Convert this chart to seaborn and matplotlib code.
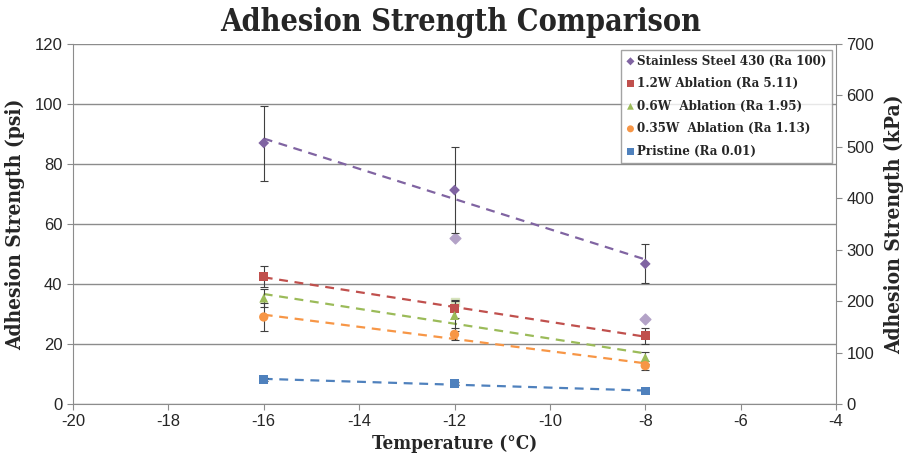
import numpy as np
import pandas as pd
import seaborn as sns
import matplotlib.pyplot as plt

# data (psi)
temps = [-16, -12, -8]
labels = ["Stainless Steel 430 (Ra 100)", "1.2W Ablation (Ra 5.11)",
          "0.6W  Ablation (Ra 1.95)", "0.35W  Ablation (Ra 1.13)",
          "Pristine (Ra 0.01)"]
steel = [87.0, 71.3, 46.7]
steel_err = [12.5, 14.3, 6.5]
w12 = [42.5, 31.8, 22.7]
w12_err = [3.5, 3.0, 2.8]
w06 = [35.3, 29.5, 15.5]
w06_err = [3.0, 5.0, 2.0]
w035 = [29.0, 23.2, 12.8]
w035_err = [4.8, 2.0, 1.5]
pristine = [8.2, 6.8, 4.3]
pristine_err = [0.5, 0.5, 0.5]
# faint extra points
faint_steel = [np.nan, 55.2, 28.5]
faint_green = [np.nan, 34.0, np.nan]

values = [steel, w12, w06, w035, pristine]
errors = [steel_err, w12_err, w06_err, w035_err, pristine_err]
colors = ["#8064A2", "#C0504D", "#9BBB59", "#F79646", "#4F81BD"]
markers = ["D", "s", "^", "o", "s"]
msizes = [30, 42, 42, 45, 38]

sns.set_style("white")
plt.rcParams["font.family"] = ["Liberation Sans", "DejaVu Sans"]
plt.rcParams["axes.unicode_minus"] = False

fig = plt.figure(figsize=(9.06, 4.66), dpi=100)
ax = fig.add_axes([73 / 906, 1 - 404 / 466, (836 - 73) / 906, (404 - 44) / 466])

ax.scatter(temps, faint_steel, marker="D", s=30, color="#B3A2C7", zorder=2)
ax.scatter(temps, faint_green, marker="s", s=36, color="#D7E4BD", zorder=2)

for name, v, e, c, m, s in zip(labels, values, errors, colors, markers, msizes):
    df = pd.DataFrame({"t": temps, "v": v})
    ax.errorbar(temps, v, yerr=e, fmt="none", ecolor="#404040",
                elinewidth=0.8, capsize=3, capthick=0.8, zorder=3)
    sns.regplot(data=df, x="t", y="v", ax=ax, scatter=False, ci=None,
                color=c, line_kws={"ls": (0, (4, 3)), "lw": 1.6, "zorder": 2})
    sns.scatterplot(data=df, x="t", y="v", ax=ax, marker=m, s=s, color=c,
                    edgecolor="none", label=name, zorder=4)

ax.set_xlim(-20, -4)
ax.set_ylim(0, 120)
ax.set_xticks(range(-20, -3, 2))
ax.set_yticks(range(0, 121, 20))
ax.yaxis.grid(True, color="#8c8c8c", lw=1)
ax.set_axisbelow(True)
for sp in ["left", "bottom", "right"]:
    ax.spines[sp].set_color("#8c8c8c")
ax.spines["top"].set_visible(False)
ax.tick_params(axis="both", direction="out", length=4, color="#8c8c8c",
               labelsize=12, left=True, bottom=True)

serif = ["DejaVu Serif"]
lab = dict(fontweight="bold", family=serif, fontstretch="condensed")
ax.set_xlabel("Temperature (°C)", labelpad=4, fontsize=13.5, **lab)
ax.set_ylabel("Adhesion Strength (psi)", labelpad=7, fontsize=15, **lab)
fig.suptitle("Adhesion Strength Comparison", fontsize=22, fontweight="bold",
             family=serif, fontstretch="condensed", x=0.508, y=0.985)

ax2 = ax.twinx()
ax2.set_ylim(0, 700)
ax2.set_yticks(range(0, 701, 100))
ax2.tick_params(axis="y", direction="out", length=4, color="#8c8c8c", labelsize=12, right=True)
for sp in ax2.spines.values():
    sp.set_visible(False)
ax2.set_ylabel("Adhesion Strength (kPa)", labelpad=7, fontsize=15, **lab)

leg = ax.legend(loc="upper right", bbox_to_anchor=(1.003, 1.003), frameon=True,
                fancybox=False, edgecolor="#8c8c8c", borderpad=0.4,
                handletextpad=0.15, handlelength=0.7, labelspacing=0.72,
                prop={"family": serif, "weight": "bold", "size": 9.5,
                      "stretch": "condensed"},
                markerscale=0.75)
leg.get_frame().set_linewidth(1)

fig.savefig("out.png", dpi=100)
